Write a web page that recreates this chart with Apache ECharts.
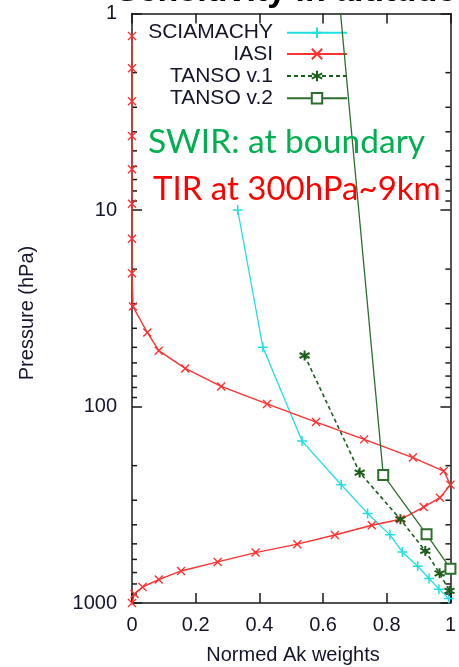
<!DOCTYPE html>
<html><head><meta charset="utf-8">
<script src="https://cdn.jsdelivr.net/npm/echarts@6/dist/echarts.min.js"></script>
<style>html,body{margin:0;padding:0;background:#fff;overflow:hidden}#c{width:459px;height:667px}</style>
</head><body><div id="c"></div>
<script>
// ---- data ----
const seriesNames = ['SCIAMACHY', 'IASI', 'TANSO v.1', 'TANSO v.2'];

const sciaPressure = [10, 50, 150, 250, 350, 450, 550, 650, 750, 850, 950];
const sciaWeight   = [0.332, 0.411, 0.534, 0.657, 0.740, 0.810, 0.849, 0.897, 0.933, 0.964, 0.995];

const iasiPressure = [1.3, 1.9, 2.8, 4.2, 6.2, 9.3, 14, 21, 31, 42, 52, 64, 79, 97, 120, 147, 182, 213, 250,
                      291, 325, 375, 402, 451, 502, 554, 618, 687, 760, 829, 900, 1000];
const iasiWeight   = [0, 0, 0, 0, 0, 0, 0, 0, 0.003, 0.048, 0.084, 0.167, 0.28, 0.424, 0.578, 0.729, 0.882, 0.979, 1.0,
                      0.967, 0.916, 0.843, 0.753, 0.637, 0.519, 0.388, 0.269, 0.154, 0.084, 0.033, 0.008, 0];

const tanso1Pressure = [55, 217, 375, 543, 706, 867];
const tanso1Weight   = [0.542, 0.715, 0.843, 0.921, 0.966, 0.997];

const tanso2Pressure = [1, 223, 447, 669];
const tanso2Weight   = [0.655, 0.789, 0.925, 1.0];

const xTicks = [0, 0.2, 0.4, 0.6, 0.8, 1];
const yTicks = [1, 10, 100, 1000];
const yMinorTicks = [2, 3, 4, 5, 6, 7, 8, 9, 20, 30, 40, 50, 60, 70, 80, 90, 200, 300, 400, 500, 600, 700, 800, 900];

const titleText = 'Sensitivity in altitude';
const xTitle = 'Normed Ak weights';
const yTitle = 'Pressure (hPa)';
const note1 = 'SWIR: at boundary';
const note2 = 'TIR at 300hPa~9km';

// ---- chart ----
const pair = (xs, ps) => xs.map((x, i) => [x, ps[i]]);
const FONT = '"Liberation Sans", Arial, Helvetica, sans-serif';
const TXT = '#15152a';
const AX = '#1a1a1a';
const CYAN = '#20dfe3', RED = '#ff3030', G1 = '#1b5e1b', G2 = '#2c6e2c';

const chart = echarts.init(document.getElementById('c'), null, {renderer: 'canvas'});

const tanso2Data = pair(tanso2Weight, tanso2Pressure).map((v, i) => i === 0 ? {value: v, symbol: 'none'} : v);

const legendRows = [32.7, 54, 76, 98.3];
const legends = seriesNames.map((n, i) => ({
  data: [n],
  orient: 'horizontal',
  align: 'right',
  right: 111,
  top: legendRows[i] - 10.5,
  padding: 0,
  itemWidth: 60,
  itemHeight: 13,
  selectedMode: false,
  textStyle: {fontFamily: FONT, fontSize: 21, color: TXT, padding: [0, 9, 0, 0], lineHeight: 21}
}));

const option = {
  animation: false,
  backgroundColor: '#fff',
  grid: {left: 132, right: 3.5, top: 13.5, bottom: 64, containLabel: false},
  legend: legends,
  xAxis: [{
    type: 'value', min: 0, max: 1, interval: 0.2, position: 'bottom',
    axisLine: {show: true, onZero: false, lineStyle: {color: AX, width: 1.5}},
    axisTick: {show: true, inside: true, length: 10, lineStyle: {color: AX, width: 1.5}},
    axisLabel: {show: true, margin: 12, fontFamily: FONT, fontSize: 20, color: TXT,
      formatter: v => xTicks.includes(+v.toFixed(1)) ? String(+v.toFixed(1)) : ''},
    splitLine: {show: false}
  }, {
    type: 'value', min: 0, max: 1, interval: 0.2, position: 'top',
    axisLine: {show: true, onZero: false, lineStyle: {color: AX, width: 1.5}},
    axisTick: {show: true, inside: true, length: 10, lineStyle: {color: AX, width: 1.5}},
    axisLabel: {show: false}, splitLine: {show: false}
  }],
  yAxis: [{
    type: 'log', logBase: 10, min: 1, max: 1000, inverse: true, position: 'left',
    axisLine: {show: true, onZero: false, lineStyle: {color: AX, width: 1.5}},
    axisTick: {show: true, inside: true, length: 10, lineStyle: {color: AX, width: 1.5}},
    axisLabel: {show: true, margin: 15, fontFamily: FONT, fontSize: 20, color: TXT,
      formatter: v => yTicks.includes(Math.round(v)) ? String(Math.round(v)) : ''},
    splitLine: {show: false}
  }, {
    type: 'log', logBase: 10, min: 1, max: 1000, inverse: true, position: 'right',
    axisLine: {show: true, onZero: false, lineStyle: {color: AX, width: 1.5}},
    axisTick: {show: true, inside: true, length: 10, lineStyle: {color: AX, width: 1.5}},
    axisLabel: {show: false}, splitLine: {show: false}
  }],
  series: [
    {
      name: 'minorTicks', type: 'custom', silent: true, clip: false, z: 1,
      xAxisIndex: 0, yAxisIndex: 0,
      data: yMinorTicks.map(p => [0, p]),
      renderItem: (params, api) => {
        const a = api.coord([0, api.value(1)]);
        const b = api.coord([1, api.value(1)]);
        const st = {stroke: AX, lineWidth: 1.5};
        return {type: 'group', children: [
          {type: 'line', shape: {x1: a[0], y1: a[1], x2: a[0] + 5, y2: a[1]}, style: st},
          {type: 'line', shape: {x1: b[0] - 5, y1: b[1], x2: b[0], y2: b[1]}, style: st}
        ]};
      }
    },
    {
      name: seriesNames[0], type: 'line', data: pair(sciaWeight, sciaPressure), z: 3,
      symbol: 'path://M5,0L5,10M0,5L10,5', symbolSize: 10, showAllSymbol: true,
      lineStyle: {color: CYAN, width: 1.3},
      itemStyle: {color: CYAN, borderColor: CYAN, borderWidth: 1.5}
    },
    {
      name: seriesNames[1], type: 'line', data: pair(iasiWeight, iasiPressure), z: 4,
      symbol: 'path://M0,0L10,10M10,0L0,10', symbolSize: 8, showAllSymbol: true,
      lineStyle: {color: RED, width: 1.4},
      itemStyle: {color: RED, borderColor: RED, borderWidth: 1.4}
    },
    {
      name: seriesNames[2], type: 'line', data: pair(tanso1Weight, tanso1Pressure), z: 5,
      symbol: 'path://M5,0L5,10M0.7,2.5L9.3,7.5M9.3,2.5L0.7,7.5', symbolSize: 10, showAllSymbol: true,
      lineStyle: {color: G1, width: 1.6, type: [4, 3]},
      itemStyle: {color: G1, borderColor: G1, borderWidth: 2}
    },
    {
      name: seriesNames[3], type: 'line', data: tanso2Data, z: 5,
      symbol: 'emptyRect', symbolSize: 10, showAllSymbol: true,
      lineStyle: {color: G2, width: 1.3},
      itemStyle: {color: G2, borderColor: G2, borderWidth: 1.5}
    }
  ],
  graphic: [
    {type: 'text', silent: true, z: 100, style: {text: titleText, x: 116, y: -8, font: 'bold 34px ' + FONT, fill: '#000', verticalAlign: 'middle', align: 'left'}},
    {type: 'text', silent: true, z: 100, style: {text: note1, x: 148, y: 142, font: '33.5px Lato, "Open Sans", sans-serif', fill: '#00b050', verticalAlign: 'middle', align: 'left'}},
    {type: 'text', silent: true, z: 100, style: {text: note2, x: 153, y: 189, font: '33px Lato, "Open Sans", sans-serif', fill: '#ff0000', verticalAlign: 'middle', align: 'left'}},
    {type: 'text', silent: true, z: 100, style: {text: xTitle, x: 293, y: 655, font: '20px ' + FONT, fill: TXT, verticalAlign: 'middle', align: 'center'}},
    {type: 'text', silent: true, z: 100, rotation: Math.PI / 2, x: 27, y: 313, style: {text: yTitle, x: 0, y: 0, font: '20px ' + FONT, fill: TXT, verticalAlign: 'middle', align: 'center'}}
  ]
};
chart.setOption(option);
</script>
</body></html>
